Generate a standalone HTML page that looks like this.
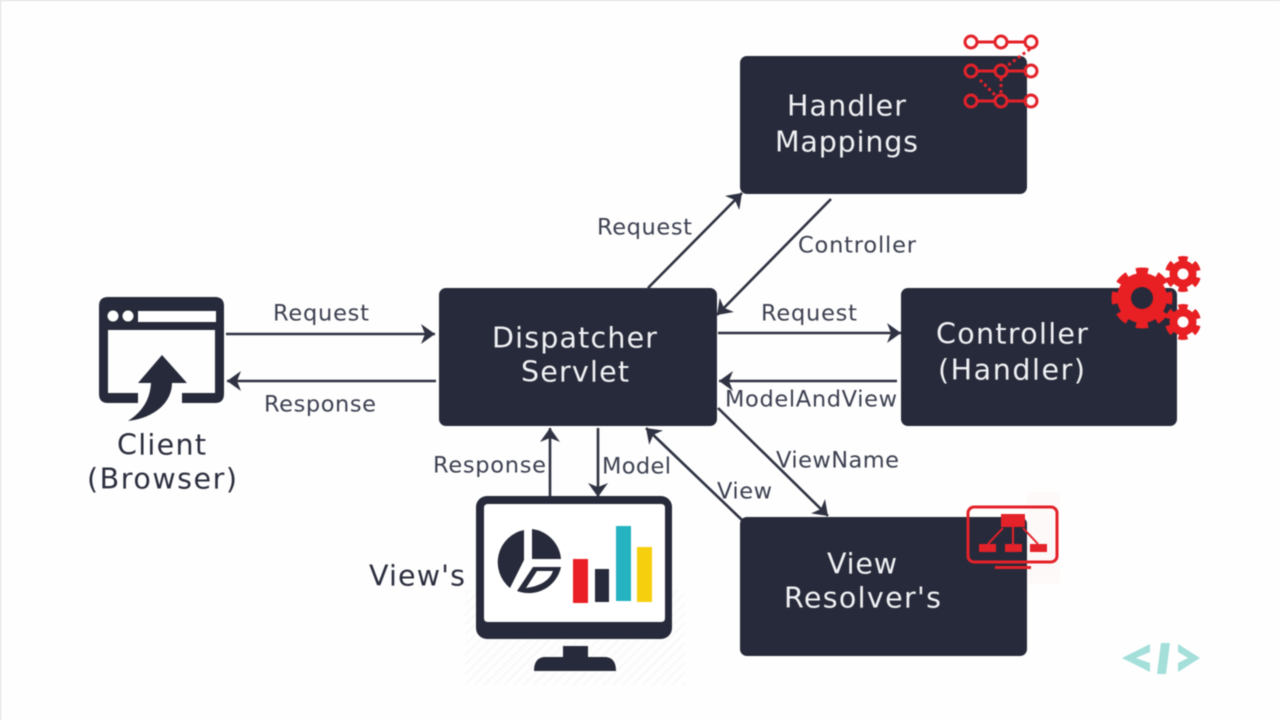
<!DOCTYPE html>
<html><head><meta charset="utf-8"><style>
html,body{margin:0;padding:0;background:#fff}
svg{display:block;filter:blur(.45px)}
text{font-family:"DejaVu Sans","Liberation Sans",sans-serif;transform:translateY(.6px)}
.n{fill:#f0f1f4;font-size:28.5px}
.l{fill:#3c4050;font-size:22.5px}
.k{fill:#2b2e3e;font-size:28.5px}
.a{stroke:#2f3242;stroke-width:2.6;fill:none;marker-end:url(#ah)}
</style></head><body>
<svg width="1280" height="720" viewBox="0 0 1280 720" xmlns="http://www.w3.org/2000/svg">
<defs>
<marker id="ah" markerUnits="userSpaceOnUse" markerWidth="22" markerHeight="24" refX="18" refY="12" orient="auto">
<path d="M4,2 L18,12 L4,22 L8,12 Z" fill="#2f3242"/>
</marker>
<pattern id="ht" width="7" height="7" patternUnits="userSpaceOnUse" patternTransform="rotate(45)">
<rect width="1.5" height="7" fill="#efefef"/>
</pattern>
</defs>
<rect width="1280" height="720" fill="#fefefe"/>
<rect x="0" y="0" width="1280" height="1" fill="#dcdcdc"/>
<rect x="0" y="0" width="1" height="720" fill="#dcdcdc"/>

<rect x="740" y="56" width="287" height="138" rx="7" fill="#272a3a"/>
<rect x="439" y="288" width="278" height="138" rx="7" fill="#272a3a"/>
<rect x="901" y="288" width="276" height="138" rx="7" fill="#272a3a"/>
<rect x="740" y="517" width="287" height="139" rx="7" fill="#272a3a"/>

<text class="n" x="787" y="115" textLength="119" lengthAdjust="spacing">Handler</text>
<text class="n" x="775" y="151" textLength="143" lengthAdjust="spacing">Mappings</text>
<text class="n" x="492" y="347" textLength="165" lengthAdjust="spacing">Dispatcher</text>
<text class="n" x="521" y="381" textLength="108" lengthAdjust="spacing">Servlet</text>
<text class="n" x="936" y="343" textLength="152" lengthAdjust="spacing">Controller</text>
<text class="n" x="938" y="379" textLength="147" lengthAdjust="spacing">(Handler)</text>
<text class="n" x="827" y="573" textLength="70" lengthAdjust="spacing">View</text>
<text class="n" x="784" y="607" textLength="157" lengthAdjust="spacing">Resolver's</text>
<text class="k" x="117" y="454" textLength="89" lengthAdjust="spacing">Client</text>
<text class="k" x="87" y="488" textLength="150" lengthAdjust="spacing">(Browser)</text>
<text class="k" x="369" y="585" textLength="96" lengthAdjust="spacing">View's</text>

<text class="l" x="597" y="234" textLength="95" lengthAdjust="spacing">Request</text>
<text class="l" x="798" y="252" textLength="118" lengthAdjust="spacing">Controller</text>
<text class="l" x="273" y="320" textLength="96" lengthAdjust="spacing">Request</text>
<text class="l" x="264" y="411" textLength="112" lengthAdjust="spacing">Response</text>
<text class="l" x="761" y="320" textLength="96" lengthAdjust="spacing">Request</text>
<text class="l" x="725" y="406" textLength="172" lengthAdjust="spacing">ModelAndView</text>
<text class="l" x="776" y="467" textLength="123" lengthAdjust="spacing">ViewName</text>
<text class="l" x="717" y="498" textLength="55" lengthAdjust="spacing">View</text>
<text class="l" x="433" y="472" textLength="113" lengthAdjust="spacing">Response</text>
<text class="l" x="602" y="473" textLength="69" lengthAdjust="spacing">Model</text>

<path class="a" d="M226,334H435"/>
<path class="a" d="M436,381H227"/>
<path class="a" d="M648,288L742,193"/>
<path class="a" d="M831,199L717,315"/>
<path class="a" d="M718,333H901"/>
<path class="a" d="M897,381H719"/>
<path class="a" d="M718,408L828,516"/>
<path class="a" d="M742,520L646,428"/>
<path class="a" d="M550,496V428"/>
<path class="a" d="M598,428V497"/>

<!-- Browser -->
<path d="M108,297H215Q224,297 224,306V394Q224,403 215,403H182V393H215V330H108V393H138V403H108Q99,403 99,394V306Q99,297 108,297Z" fill="#272a3a"/>
<rect x="138" y="311" width="78" height="11" fill="#fff"/>
<circle cx="113" cy="316" r="5.5" fill="#fff"/>
<circle cx="128" cy="316" r="5.5" fill="#fff"/>
<path d="M162,355L187,383H172C172,402 155,418 128,421C142,412 150,400 151,383H138Z" fill="#272a3a"/>

<!-- Monitor -->
<rect x="465" y="590" width="220" height="95" fill="url(#ht)" opacity=".5"/>
<rect x="476" y="496" width="196" height="143" rx="11" fill="#272a3a"/>
<path d="M488,504H661Q665,504 665,508V618Q665,622 661,622H488Q484,622 484,618V508Q484,504 488,504Z" fill="#fff"/>
<path d="M563,646H588V657H606Q616,658 616,671H534Q534,658 544,657H563Z" fill="#272a3a"/>
<path d="M524,530A33,33 0 0 0 510,588L524,560Z" fill="#272a3a"/>
<path d="M532,529A33,33 0 0 1 561,559H532Z" fill="#272a3a"/>
<path d="M533,567H561A33,33 0 0 1 517,591Z" fill="#272a3a"/>
<path d="M537,571H553Q548,585 526,588Z" fill="#fff"/>
<rect x="573" y="559" width="15" height="44" fill="#ea1f25"/>
<rect x="595" y="569" width="14" height="33" fill="#272a3a"/>
<rect x="616" y="526" width="15" height="75" fill="#25b3c2"/>
<rect x="637" y="547" width="15" height="55" fill="#f6cf0e"/>

<!-- Handler icon -->
<g stroke="#e3222a" stroke-width="3" fill="none">
<path d="M976,42H996M1006,42H1026M976,71H996M1006,71H1026M976,101H996M1006,101H1026"/>
<path d="M1030,49L1007,66M980,80L996,96M1001,78V94" stroke-dasharray="3 3"/>
<circle cx="971" cy="42" r="6" fill="#fff"/>
<circle cx="1001" cy="42" r="6" fill="#fff"/>
<circle cx="1031" cy="42" r="6" fill="#fff"/>
<circle cx="971" cy="71" r="6"/>
<circle cx="1001" cy="71" r="6"/>
<circle cx="1031" cy="71" r="6"/>
<circle cx="971" cy="101" r="6"/>
<circle cx="1001" cy="101" r="6"/>
<circle cx="1031" cy="101" r="6"/>
</g>

<!-- Gears -->
<g fill="#e81f23">
<circle cx="1142" cy="298" r="25"/>
<circle cx="1142" cy="298" r="26" fill="none" stroke="#e81f23" stroke-width="9" stroke-dasharray="11.4 9" stroke-dashoffset="5.7"/>
<circle cx="1142" cy="298" r="11" fill="#272a3a"/>
<circle cx="1183" cy="274" r="13.5"/>
<circle cx="1183" cy="274" r="14.5" fill="none" stroke="#e81f23" stroke-width="7" stroke-dasharray="8.6 6.58" stroke-dashoffset="4.3" transform="rotate(90 1183 274)"/>
<circle cx="1183" cy="274" r="5.5" fill="#fff"/>
<circle cx="1183" cy="322" r="13.5"/>
<circle cx="1183" cy="322" r="14.5" fill="none" stroke="#e81f23" stroke-width="7" stroke-dasharray="8.6 6.58" stroke-dashoffset="4.3" transform="rotate(90 1183 322)"/>
<circle cx="1183" cy="322" r="5.5" fill="#fff"/>
</g>

<!-- View icon -->
<rect x="1027" y="492" width="33" height="92" fill="#fef9f9"/>
<rect x="968" y="507" width="89" height="55" rx="6" fill="none" stroke="#e3222a" stroke-width="3"/>
<g fill="#e3222a">
<rect x="1001" y="514" width="24" height="13"/>
<rect x="979" y="544" width="17" height="8"/>
<rect x="1005" y="544" width="17" height="8"/>
<rect x="1030" y="544" width="17" height="8"/>
<rect x="995" y="566" width="36" height="3"/>
</g>
<path d="M1003,528L988,544M1013,527V544M1023,528L1038,544" stroke="#e3222a" stroke-width="2" fill="none"/>

<!-- Logo -->
<g fill="#a4dfda">
<path d="M1150,644L1122,658L1150,672V663L1136,658L1150,652Z"/>
<path d="M1161,643H1170L1166,674H1157Z"/>
<path d="M1178,644L1200,658L1178,672V663L1188,658L1178,652Z"/>
</g>
</svg>
</body></html>
